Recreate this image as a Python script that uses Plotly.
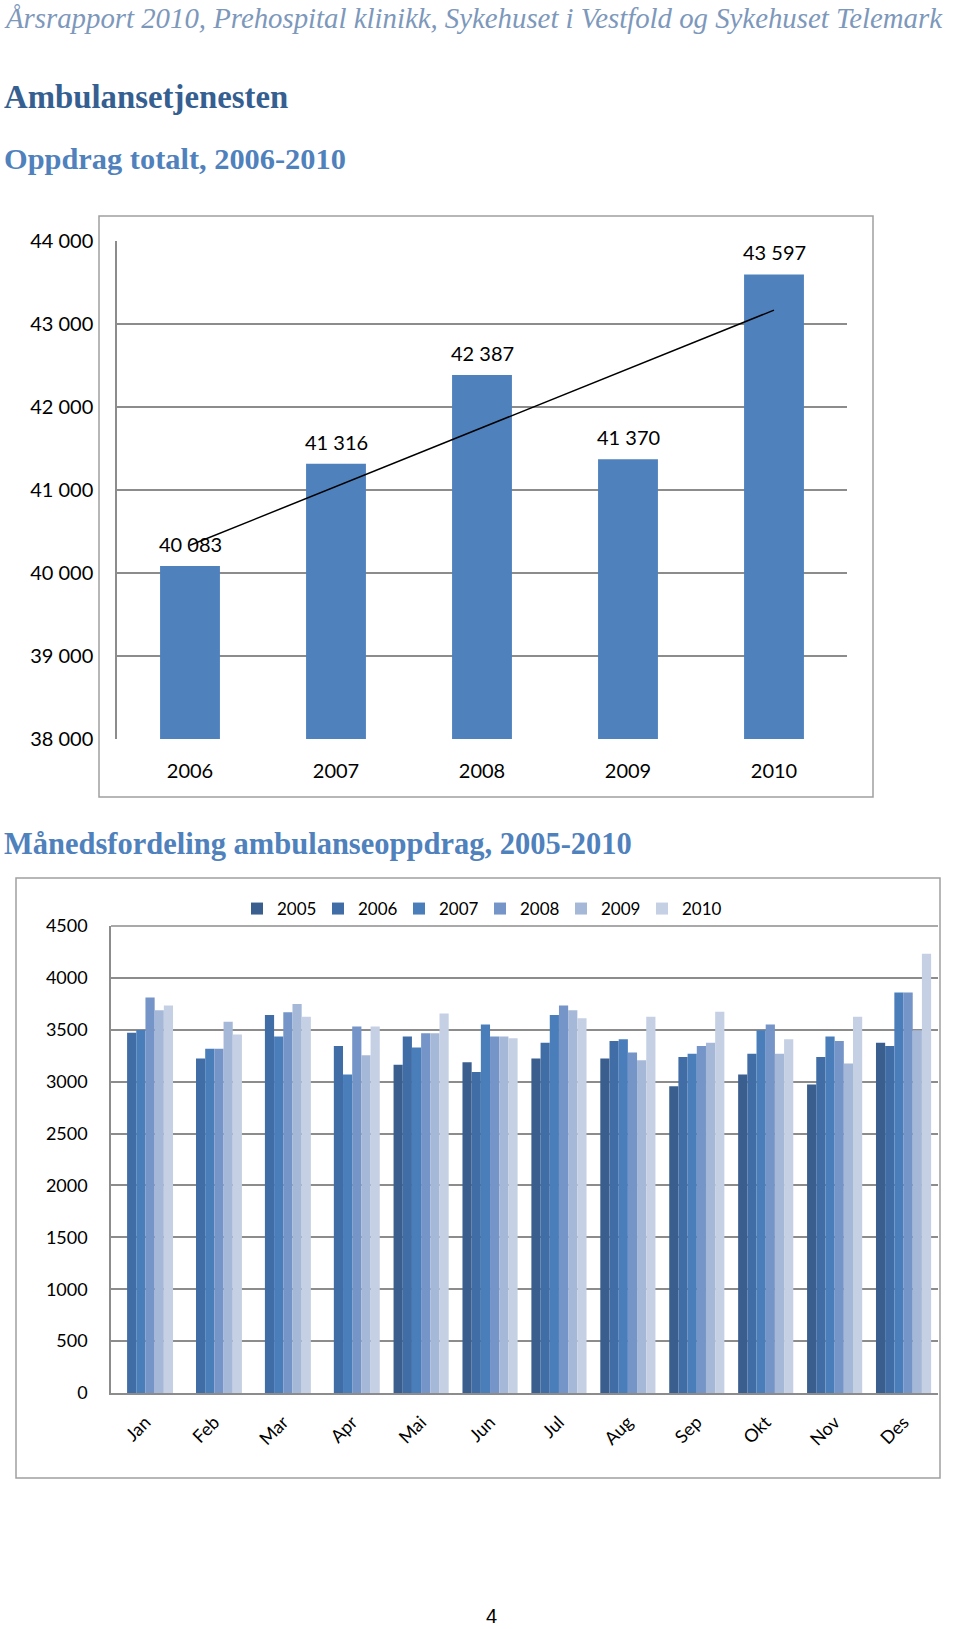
import numpy as np
import plotly.graph_objects as go

# ---- Data ----
years = ["2006", "2007", "2008", "2009", "2010"]
totals = [40083, 41316, 42387, 41370, 43597]

months = ["Jan", "Feb", "Mar", "Apr", "Mai", "Jun", "Jul", "Aug", "Sep", "Okt", "Nov", "Des"]
series_names = ["2005", "2006", "2007", "2008", "2009", "2010"]
v2005 = [None, None, None, None, 3162, 3186, 3223, 3223, 2956, 3069, 2973, 3374]
v2006 = [3471, 3223, 3642, 3344, 3436, 3093, 3374, 3392, 3237, 3268, 3237, 3344]
v2007 = [3498, 3316, 3436, 3069, 3330, 3550, 3642, 3409, 3268, 3495, 3436, 3859]
v2008 = [3810, 3316, 3670, 3532, 3467, 3436, 3735, 3282, 3344, 3550, 3392, 3859]
v2009 = [3687, 3577, 3749, 3254, 3467, 3436, 3687, 3206, 3374, 3268, 3175, 3495]
v2010 = [3735, 3454, 3625, 3532, 3656, 3419, 3611, 3625, 3673, 3409, 3625, 4233]
series_values = [v2005, v2006, v2007, v2008, v2009, v2010]
series_colors = ["#3a5f8e", "#416da6", "#4a7ebb", "#7594c8", "#a6b8d8", "#c5d0e4"]

W, H = 960, 1629
def px_x(p): return p / W
def px_y(p): return 1 - p / H

fig = go.Figure()

# ---- Top chart ----
fig.add_trace(go.Bar(x=years, y=totals, marker_color="#4f81bd", showlegend=False,
                     width=0.41, xaxis="x", yaxis="y"))
xi = np.arange(1, len(totals) + 1)
slope, intercept = np.polyfit(xi, totals, 1)
trend = [slope * xi[0] + intercept, slope * xi[-1] + intercept]
fig.add_trace(go.Scatter(x=[years[0], years[-1]], y=trend, mode="lines",
                         line=dict(color="black", width=1.5), showlegend=False,
                         xaxis="x", yaxis="y"))

annotations = []
for i, v in enumerate(totals):
    annotations.append(dict(x=i, y=v, xref="x", yref="y", text=f"{v:,}".replace(",", " "),
                            showarrow=False, yanchor="bottom", yshift=8,
                            font=dict(family="Lato", size=20, color="black")))

# ---- Bottom chart ----
for name, vals, col in zip(series_names, series_values, series_colors):
    fig.add_trace(go.Bar(x=months, y=vals, name=name, marker_color=col,
                         xaxis="x2", yaxis="y2", showlegend=True))

grid = "#8c8c8c"
fig.update_layout(
    template="none",
    width=W, height=H,
    margin=dict(l=0, r=0, t=0, b=0, autoexpand=False),
    paper_bgcolor="white", plot_bgcolor="white",
    separators=", ",
    barmode="group",
    bargap=0.2, bargroupgap=0,
    font=dict(family="Lato", color="black"),
    xaxis=dict(domain=[px_x(117), px_x(847)], anchor="y", type="category",
               range=[-0.5, len(years) - 0.5], automargin=False,
               showgrid=False, showline=False, ticks="outside", ticklen=14,
               tickcolor="rgba(0,0,0,0)", tickfont=dict(family="Lato", size=20)),
    yaxis=dict(domain=[px_y(739), px_y(241)], anchor="x", range=[38000, 44000],
               dtick=1000, tickformat=",d", showgrid=True, gridcolor=grid, gridwidth=1.5,
               showline=True, linecolor=grid, linewidth=1.5, zeroline=False, automargin=False,
               ticks="outside", ticklen=18, tickcolor="rgba(0,0,0,0)",
               tickfont=dict(family="Lato", size=20)),
    xaxis2=dict(domain=[px_x(111), px_x(938)], anchor="y2", type="category", automargin=False,
                showgrid=False, showline=True, linecolor=grid, linewidth=1.5,
                tickangle=-45, tickfont=dict(family="Lato", size=18),
                ticks="outside", ticklen=10, tickcolor="rgba(0,0,0,0)"),
    yaxis2=dict(domain=[px_y(1393), px_y(926)], anchor="x2", range=[0, 4500], automargin=False,
                dtick=500, showgrid=True, gridcolor=grid, gridwidth=1.5,
                showline=True, linecolor=grid, linewidth=1.5, zeroline=False,
                ticks="outside", ticklen=18, tickcolor="rgba(0,0,0,0)",
                tickfont=dict(family="Lato", size=18)),
    legend=dict(orientation="h", x=px_x(237), y=px_y(909), xanchor="left", yanchor="middle",
                font=dict(family="Lato", size=17), bgcolor="rgba(0,0,0,0)",
                itemwidth=30, entrywidth=36, entrywidthmode="pixels", tracegroupgap=0),
)

# ---- Boxes ----
shapes = [
    dict(type="rect", xref="paper", yref="paper", x0=px_x(99), x1=px_x(873),
         y0=px_y(797), y1=px_y(216), line=dict(color="#a0a0a0", width=1.5), layer="below"),
    dict(type="rect", xref="paper", yref="paper", x0=px_x(16), x1=px_x(940),
         y0=px_y(1478), y1=px_y(878), line=dict(color="#a0a0a0", width=1.5), layer="below"),
    dict(type="line", xref="paper", yref="paper", x0=px_x(111), x1=px_x(938),
         y0=px_y(926), y1=px_y(926), line=dict(color=grid, width=1.5)),
]

# ---- Headings ----
annotations += [
    dict(x=px_x(2), y=px_y(18), xref="paper", yref="paper", xanchor="left", yanchor="middle",
         showarrow=False, text="<i>Årsrapport 2010, Prehospital klinikk, Sykehuset i Vestfold og Sykehuset Telemark</i>",
         font=dict(family="Liberation Serif", size=28.8, color="#7d98bb")),
    dict(x=px_x(2), y=px_y(97), xref="paper", yref="paper", xanchor="left", yanchor="middle",
         showarrow=False, text="<b>Ambulansetjenesten</b>",
         font=dict(family="Liberation Serif", size=32.8, color="#365f91")),
    dict(x=px_x(2), y=px_y(159), xref="paper", yref="paper", xanchor="left", yanchor="middle",
         showarrow=False, text="<b>Oppdrag totalt, 2006-2010</b>",
         font=dict(family="Liberation Serif", size=30.4, color="#4f81bd")),
    dict(x=px_x(2), y=px_y(844), xref="paper", yref="paper", xanchor="left", yanchor="middle",
         showarrow=False, text="<b>Månedsfordeling ambulanseoppdrag, 2005-2010</b>",
         font=dict(family="Liberation Serif", size=30.5, color="#4f81bd")),
    dict(x=px_x(492), y=0, xref="paper", yref="paper", xanchor="center", yanchor="bottom",
         showarrow=False, text="4",
         font=dict(family="Liberation Sans Narrow, Liberation Sans", size=20, color="black")),
]

fig.update_layout(shapes=shapes, annotations=annotations)
fig.write_html("out.html", config={"displayModeBar": False},
               post_script="document.body.style.margin='0';document.body.style.overflow='hidden';")
